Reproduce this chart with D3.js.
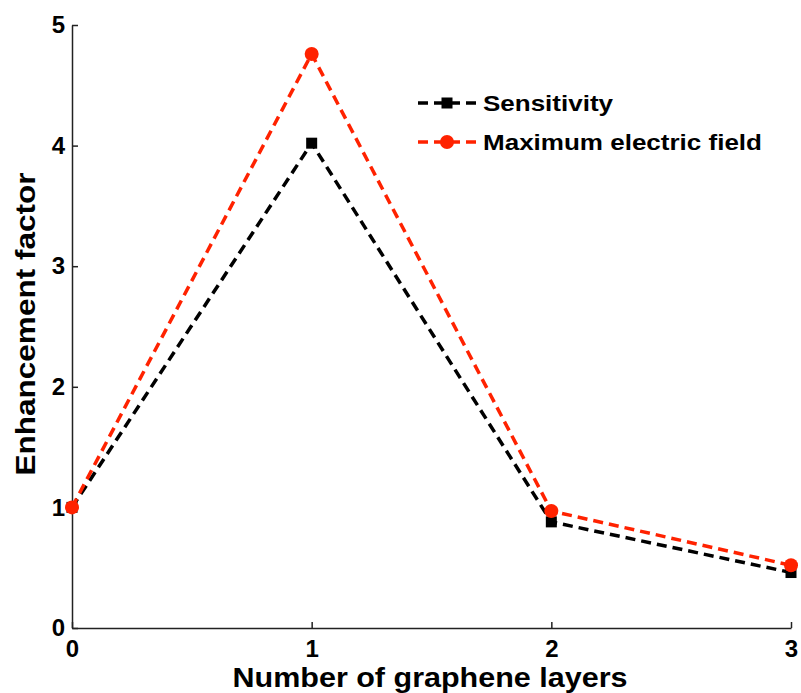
<!DOCTYPE html>
<html>
<head>
<meta charset="utf-8">
<script src="https://cdn.jsdelivr.net/npm/d3@7"></script>
<style>
  html, body { margin: 0; padding: 0; background: #fff; }
  svg { display: block; font-family: "Liberation Sans", Arial, sans-serif; font-weight: bold; }
</style>
</head>
<body>
<svg id="chart" width="801" height="693"></svg>
<script>
// Enhancement factor vs. number of graphene layers
const layers = [0, 1, 2, 3];
const sensitivity = [1, 4.02, 0.88, 0.46];
const maxField = [1, 4.76, 0.97, 0.52];
const xTicks = [0, 1, 2, 3];
const yTicks = [0, 1, 2, 3, 4, 5];
const seriesNames = ["Sensitivity", "Maximum electric field"];

const svg = d3.select("#chart");

const x = d3.scaleLinear().domain([0, 3]).range([72, 791]);
const y = d3.scaleLinear().domain([0, 5]).range([628, 25]);

// Axes (left and bottom only, ticks pointing inward)
const yAxis = d3.axisLeft(y).tickValues(yTicks).tickSizeInner(-6).tickSizeOuter(0).tickPadding(7).tickFormat(d3.format("d"));
const xAxis = d3.axisBottom(x).tickValues(xTicks).tickSizeInner(-6).tickSizeOuter(0).tickPadding(12).tickFormat(d3.format("d"));

const gy = svg.append("g").attr("transform", `translate(${x(0)},0)`).call(yAxis);
const gx = svg.append("g").attr("transform", `translate(0,${y(0)})`).call(xAxis);

[gx, gy].forEach(g => {
  g.select(".domain").attr("stroke", "#222").attr("stroke-width", 1.5);
  g.selectAll(".tick line").attr("stroke", "#222").attr("stroke-width", 1.5);
  g.selectAll(".tick text").attr("fill", "#000").style("font-size", "24px").style("font-weight", "bold")
    .style("font-family", "'Liberation Sans', Arial, sans-serif");
});
gx.selectAll(".tick text").attr("dy", "0.71em");

// Axis titles
svg.append("text")
  .attr("x", 430).attr("y", 687)
  .attr("text-anchor", "middle")
  .attr("textLength", 395).attr("lengthAdjust", "spacingAndGlyphs")
  .style("font-size", "27px")
  .text("Number of graphene layers");

svg.append("text")
  .attr("transform", "translate(35,324) rotate(-90)")
  .attr("text-anchor", "middle")
  .attr("textLength", 303).attr("lengthAdjust", "spacingAndGlyphs")
  .style("font-size", "27px")
  .text("Enhancement factor");

// Series
const series = [
  { name: seriesNames[0], values: sensitivity, color: "#000000", marker: "square" },
  { name: seriesNames[1], values: maxField, color: "#ff2200", marker: "circle" }
];

const line = d3.line().x(d => x(d[0])).y(d => y(d[1]));

function drawMarker(g, type, cx, cy, color) {
  if (type === "square") {
    g.append("rect").attr("x", cx - 5.5).attr("y", cy - 5.5).attr("width", 11).attr("height", 11).attr("fill", color);
  } else {
    g.append("circle").attr("cx", cx).attr("cy", cy).attr("r", 7).attr("fill", color);
  }
}

series.forEach(s => {
  const pts = layers.map((l, i) => [l, s.values[i]]);
  const g = svg.append("g");
  g.append("path").datum(pts)
    .attr("d", line)
    .attr("fill", "none")
    .attr("stroke", s.color)
    .attr("stroke-width", 3.5)
    .attr("stroke-dasharray", "10,6");
  pts.forEach(p => drawMarker(g, s.marker, x(p[0]), y(p[1]), s.color));
});

// Legend
const legend = svg.append("g");
series.forEach((s, i) => {
  const ly = 103 + i * 39;
  legend.append("line")
    .attr("x1", 418).attr("x2", 476).attr("y1", ly).attr("y2", ly)
    .attr("stroke", s.color).attr("stroke-width", 3.5).attr("stroke-dasharray", "10,6");
  drawMarker(legend, s.marker, 447, ly, s.color);
  legend.append("text")
    .attr("x", 483).attr("y", ly + 8)
    .attr("textLength", i === 0 ? 130 : 279).attr("lengthAdjust", "spacingAndGlyphs")
    .style("font-size", "22px")
    .text(s.name);
});
</script>
</body>
</html>
